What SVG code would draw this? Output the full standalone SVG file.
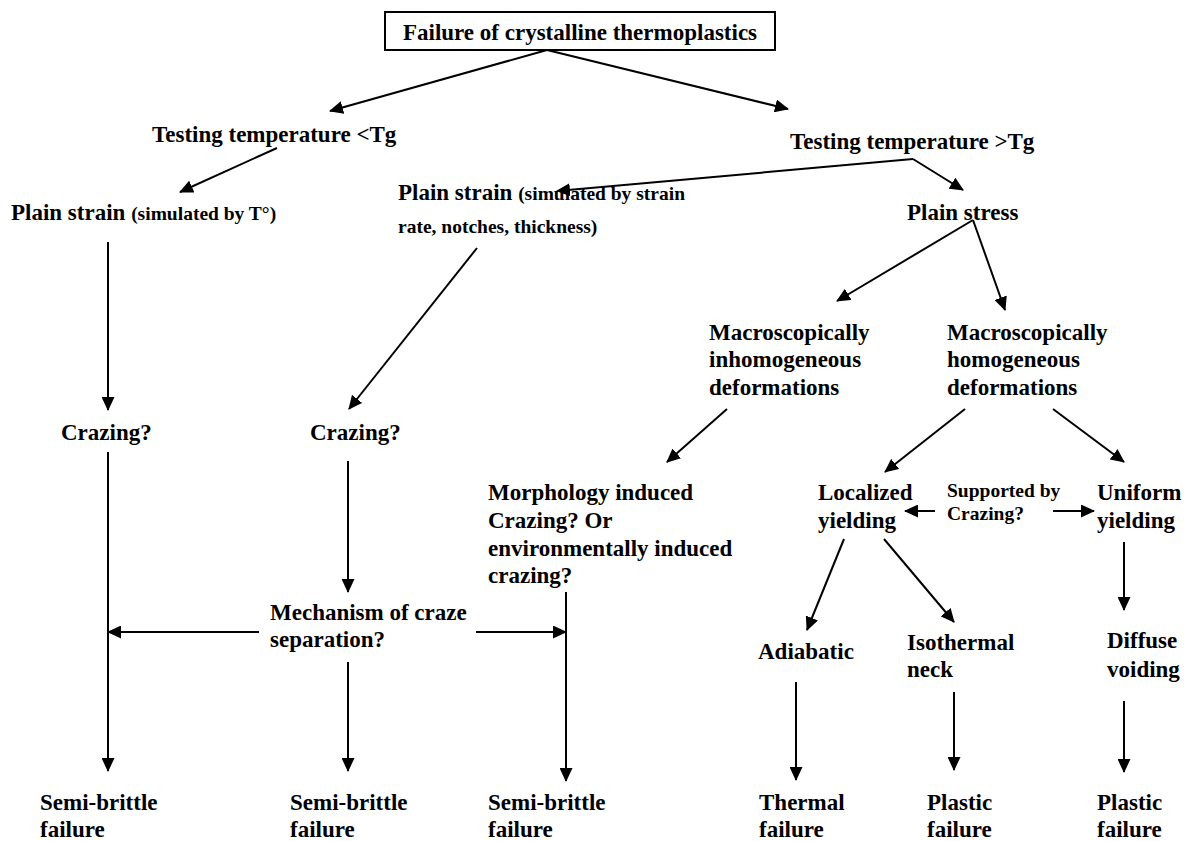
<svg xmlns="http://www.w3.org/2000/svg" width="1188" height="841" viewBox="0 0 1188 841">
<style>
text{font-family:"Liberation Serif","Times New Roman",serif;font-weight:bold;font-size:23px;fill:#000}
.s{font-size:19.5px}
.c line{stroke:#000;stroke-width:2;fill:none;marker-end:url(#ah)}
.c line.n{marker-end:none}
</style>
<defs>
<marker id="ah" markerUnits="userSpaceOnUse" markerWidth="14" markerHeight="13" refX="13" refY="6.5" orient="auto">
<path d="M0,0 L14,6.5 L0,13 z" fill="#000"/>
</marker>
</defs>
<rect width="1188" height="841" fill="#fff"/>
<g id="n-root"><rect x="385" y="12" width="390" height="38" fill="#fff" stroke="#000" stroke-width="2"/><text x="580" y="40" text-anchor="middle">Failure of crystalline thermoplastics</text></g>
<g id="n-below"><text x="152" y="142">Testing temperature &lt;Tg</text></g>
<g id="n-above"><text x="790" y="149">Testing temperature &gt;Tg</text></g>
<g id="n-pstrain1"><text x="11" y="220">Plain strain <tspan class="s">(simulated by T°)</tspan></text></g>
<g id="n-pstrain2"><text x="398" y="200">Plain strain <tspan class="s">(simulated by strain</tspan></text><text class="s" x="398" y="233">rate, notches, thickness)</text></g>
<g id="n-pstress"><text x="907" y="220">Plain stress</text></g>
<g id="n-inhom"><text x="709" y="340">Macroscopically</text><text x="709" y="367">inhomogeneous</text><text x="709" y="395">deformations</text></g>
<g id="n-hom"><text x="947" y="340">Macroscopically</text><text x="947" y="367">homogeneous</text><text x="947" y="395">deformations</text></g>
<g id="n-craz1"><text x="61" y="440">Crazing?</text></g>
<g id="n-craz2"><text x="310" y="440">Crazing?</text></g>
<g id="n-morph"><text x="488" y="500">Morphology induced</text><text x="488" y="528">Crazing? Or</text><text x="488" y="556">environmentally induced</text><text x="488" y="583">crazing?</text></g>
<g id="n-local"><text x="818" y="500">Localized</text><text x="818" y="528">yielding</text></g>
<g id="n-support"><text class="s" x="947" y="497">Supported by</text><text class="s" x="947" y="520">Crazing?</text></g>
<g id="n-uniform"><text x="1097" y="500">Uniform</text><text x="1097" y="528">yielding</text></g>
<g id="n-mech"><text x="270" y="620">Mechanism of craze</text><text x="270" y="647">separation?</text></g>
<g id="n-adia"><text x="758" y="659">Adiabatic</text></g>
<g id="n-iso"><text x="907" y="650">Isothermal</text><text x="907" y="677">neck</text></g>
<g id="n-diff"><text x="1107" y="648">Diffuse</text><text x="1107" y="677">voiding</text></g>
<g id="n-sb1"><text x="40" y="810">Semi-brittle</text><text x="40" y="837">failure</text></g>
<g id="n-sb2"><text x="290" y="810">Semi-brittle</text><text x="290" y="837">failure</text></g>
<g id="n-sb3"><text x="488" y="810">Semi-brittle</text><text x="488" y="837">failure</text></g>
<g id="n-therm"><text x="759" y="810">Thermal</text><text x="759" y="837">failure</text></g>
<g id="n-plast1"><text x="927" y="810">Plastic</text><text x="927" y="837">failure</text></g>
<g id="n-plast2"><text x="1097" y="810">Plastic</text><text x="1097" y="837">failure</text></g>
<g id="connectors" class="c">
<line x1="547" y1="50" x2="330" y2="111"/>
<line x1="547" y1="50" x2="788" y2="109"/>
<line x1="277" y1="148" x2="180" y2="192"/>
<line x1="913" y1="159" x2="557" y2="191"/>
<line x1="913" y1="159" x2="963" y2="190"/>
<line x1="108" y1="242" x2="108" y2="410"/>
<line x1="477" y1="248" x2="349" y2="409"/>
<line x1="973" y1="220" x2="837" y2="301"/>
<line x1="973" y1="220" x2="1005" y2="310"/>
<line x1="727" y1="409" x2="667" y2="462"/>
<line x1="965" y1="409" x2="885" y2="472"/>
<line x1="1053" y1="409" x2="1124" y2="462"/>
<line x1="935" y1="511" x2="905" y2="511"/>
<line x1="1053" y1="511" x2="1094" y2="511"/>
<line x1="844" y1="539" x2="807" y2="630"/>
<line x1="884" y1="539" x2="954" y2="622"/>
<line x1="1124" y1="542" x2="1124" y2="610"/>
<line x1="348" y1="461" x2="348" y2="592"/>
<line x1="108" y1="452" x2="108" y2="771"/>
<line x1="259" y1="632" x2="108" y2="632"/>
<line x1="476" y1="632" x2="566" y2="632"/>
<line x1="566" y1="592" x2="566" y2="781"/>
<line x1="348" y1="662" x2="348" y2="771"/>
<line x1="796" y1="682" x2="796" y2="780"/>
<line x1="954" y1="692" x2="954" y2="770"/>
<line x1="1124" y1="701" x2="1124" y2="772"/>
</g>
</svg>
